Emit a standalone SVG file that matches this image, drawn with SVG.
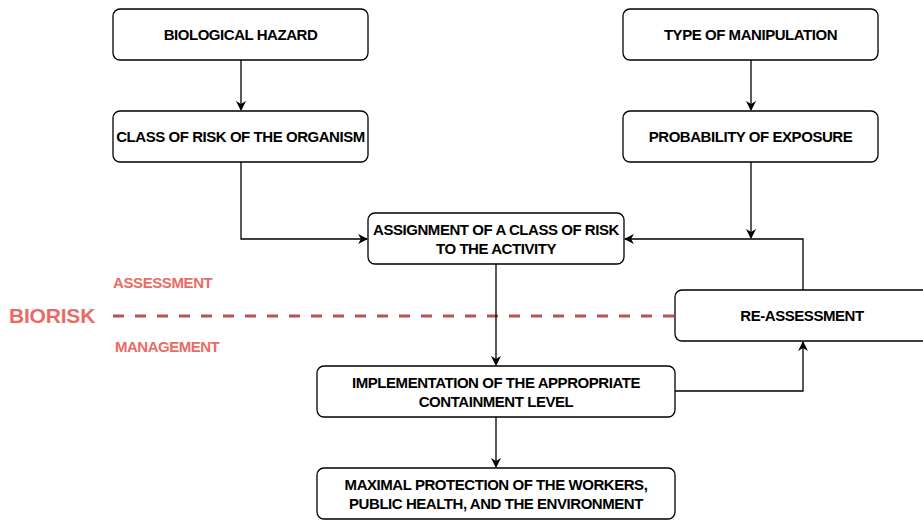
<svg xmlns="http://www.w3.org/2000/svg" width="923" height="520" viewBox="0 0 923 520">
<style>
.box{fill:#fff;stroke:#000;stroke-width:1.3}
.t{font-family:"Liberation Sans",Arial,sans-serif;font-weight:bold;font-size:15px;fill:#000;text-anchor:middle;letter-spacing:-0.45px}
.c{fill:none;stroke:#000;stroke-width:1.3}
.r{font-family:"Liberation Sans",Arial,sans-serif;font-weight:bold;fill:#EA6B66}
</style>
<defs>
<marker id="a" viewBox="0 0 10 10" refX="9" refY="5" markerWidth="10" markerHeight="10" markerUnits="userSpaceOnUse" orient="auto">
<path d="M0,0 L10,5 L0,10 L3,5 Z" fill="#000"/>
</marker>
</defs>
<rect width="923" height="520" fill="#fff"/>
<g id="labels">
<text class="r" x="9" y="322.5" font-size="21" letter-spacing="-0.2">BIORISK</text>
<text class="r" x="113" y="287.5" font-size="15" letter-spacing="-0.4">ASSESSMENT</text>
<text class="r" x="115" y="351.5" font-size="15" letter-spacing="-0.5">MANAGEMENT</text>
<line x1="113" y1="316" x2="675" y2="316" stroke="#B85450" stroke-width="3" stroke-dasharray="11 11"/>
</g>
<g id="connectors">
<line class="c" x1="241" y1="60" x2="241" y2="110" marker-end="url(#a)"/>
<line class="c" x1="751" y1="60" x2="751" y2="110" marker-end="url(#a)"/>
<polyline class="c" points="241,162 241,239 367,239" marker-end="url(#a)"/>
<line class="c" x1="751" y1="162" x2="751" y2="238" marker-end="url(#a)"/>
<polyline class="c" points="803,290 803,239 625,239" marker-end="url(#a)"/>
<line class="c" x1="496" y1="264" x2="496" y2="365" marker-end="url(#a)"/>
<polyline class="c" points="675,391 803,391 803,342" marker-end="url(#a)"/>
<line class="c" x1="496" y1="417" x2="496" y2="467" marker-end="url(#a)"/>
</g>
<g id="n1"><rect class="box" x="113" y="9" width="255" height="51" rx="7"/><text class="t" x="240.5" y="39.5">BIOLOGICAL HAZARD</text></g>
<g id="n2"><rect class="box" x="113" y="111" width="255" height="51" rx="7"/><text class="t" x="240.5" y="141.5">CLASS OF RISK OF THE ORGANISM</text></g>
<g id="n3"><rect class="box" x="623" y="9" width="255" height="51" rx="7"/><text class="t" x="750.5" y="39.5">TYPE OF MANIPULATION</text></g>
<g id="n4"><rect class="box" x="623" y="111" width="255" height="51" rx="7"/><text class="t" x="750.5" y="141.5">PROBABILITY OF EXPOSURE</text></g>
<g id="n5"><rect class="box" x="368" y="213" width="256" height="51" rx="7"/><text class="t" x="496" y="234.5">ASSIGNMENT OF A CLASS OF RISK</text><text class="t" x="496" y="253.5">TO THE ACTIVITY</text></g>
<g id="n6"><rect class="box" x="675" y="290" width="256" height="51" rx="7"/><text class="t" x="802" y="320.5">RE-ASSESSMENT</text></g>
<g id="n7"><rect class="box" x="317" y="366" width="358" height="51" rx="7"/><text class="t" x="496" y="387.5">IMPLEMENTATION OF THE APPROPRIATE</text><text class="t" x="496" y="406.5">CONTAINMENT LEVEL</text></g>
<g id="n8"><rect class="box" x="317" y="468" width="358" height="51" rx="7"/><text class="t" x="496" y="489.5">MAXIMAL PROTECTION OF THE WORKERS,</text><text class="t" x="496" y="508.5">PUBLIC HEALTH, AND THE ENVIRONMENT</text></g>
</svg>
